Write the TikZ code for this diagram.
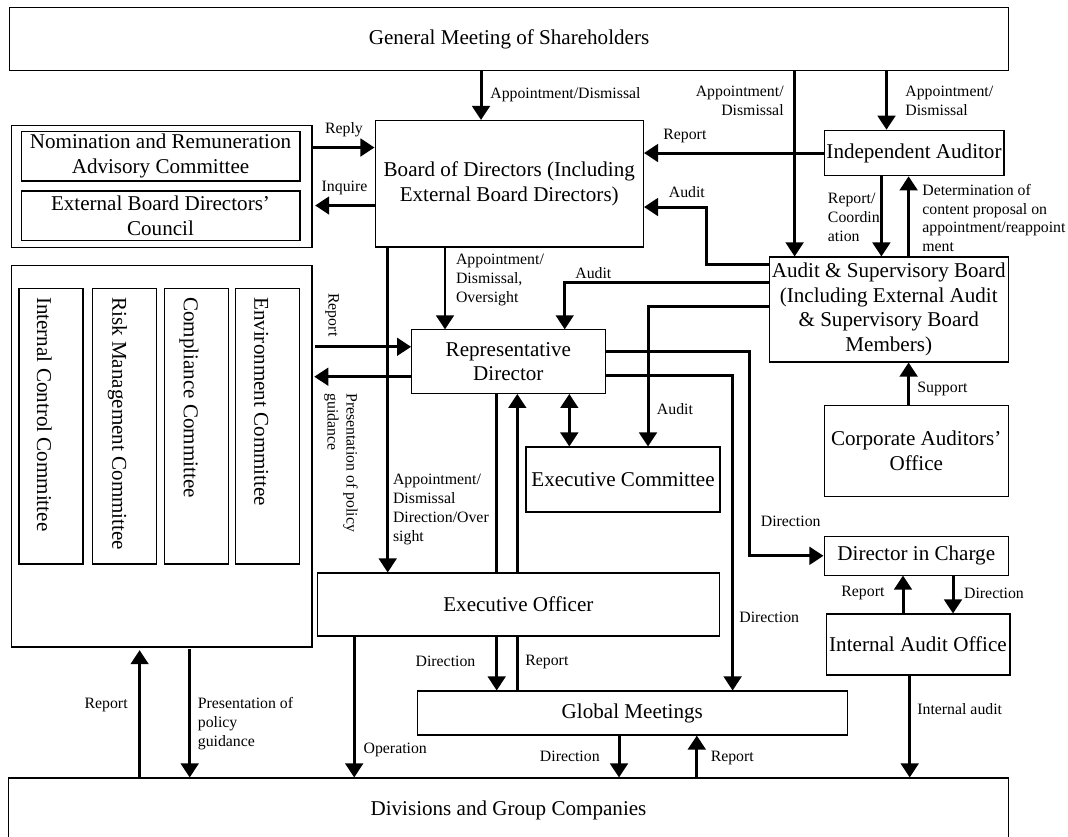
\documentclass[tikz,border=0pt]{standalone}
\usepackage{fontspec}
\setmainfont{Liberation Serif}
\usetikzlibrary{arrows.meta}

\begin{document}
\begin{tikzpicture}[x=0.02cm,y=-0.02cm,
  box/.style={draw=black,line width=0.6pt,inner sep=1pt,align=center,font=\fontsize{12}{14}\selectfont},
  vtext/.style={rotate=-90,anchor=west,inner sep=0pt,font=\fontsize{12}{14}\selectfont},
  lbl/.style={inner sep=0pt,align=left,font=\fontsize{9}{10.8}\selectfont},
  arr/.style={line width=1.7pt,-{Triangle[width=10pt,length=8pt]}},
  dblarr/.style={line width=1.7pt,{Triangle[width=10pt,length=8pt]}-{Triangle[width=10pt,length=8pt]}},
  wire/.style={line width=1.7pt}]
\useasboundingbox (0,0) rectangle (1068,836);

% Top and bottom bars
\node[box,minimum width=20cm,minimum height=1.27cm] (gm) at (509,39) {General Meeting of Shareholders};
\node[box,minimum width=20cm,minimum height=1.28cm] (div) at (508.5,810) {Divisions and Group Companies};

% Advisory committees
\node[box,minimum width=6.02cm,minimum height=2.44cm] (advgrp) at (161.5,186.5) {};
\node[box,minimum width=5.58cm,minimum height=0.99cm] (nrac) at (160.5,156.25) {Nomination and Remuneration\\Advisory Committee};
\node[box,minimum width=5.58cm,minimum height=0.99cm] (ebdc) at (160.5,215.75) {External Board Directors’\\Council};

% Company committees
\node[box,minimum width=6.02cm,minimum height=7.64cm] (cmtgrp) at (161.5,456) {};
\foreach \nm/\cx/\tx/\txt in {icc/51/44.3/Internal Control Committee, rmc/124.65/117.5/Risk Management Committee,
    coc/196.35/189/Compliance Committee, enc/267.7/261.2/Environment Committee}{
  \node[box,minimum width=1.28cm,minimum height=5.52cm] (\nm) at (\cx,426) {};
  \node[vtext] (\nm-t) at (\tx,296.8) {\txt};
}

% Boards and offices
\node[box,minimum width=5.37cm,minimum height=2.53cm] (bod) at (509.25,183.75) {Board of Directors (Including\\External Board Directors)};
\node[box,minimum width=3.6cm,minimum height=0.91cm] (ia) at (914,153) {Independent Auditor};
\node[box,minimum width=4.79cm,minimum height=2.1cm] (asb) at (888.75,309.5) {Audit \& Supervisory Board\\(Including External Audit\\\& Supervisory Board\\Members)};
\node[box,minimum width=3.69cm,minimum height=1.83cm] (cao) at (916.25,451) {Corporate Auditors’\\Office};
\node[box,minimum width=3.69cm,minimum height=0.77cm] (dic) at (916.25,555.8) {Director in Charge};
\node[box,minimum width=3.68cm,minimum height=1.22cm] (iao) at (918,644.5) {Internal Audit Office};
\node[box,minimum width=3.87cm,minimum height=1.27cm] (rd) at (508.35,361.65) {Representative\\Director};
\node[box,minimum width=3.88cm,minimum height=1.3cm] (excom) at (623,479.5) {Executive Committee};
\node[box,minimum width=8.04cm,minimum height=1.26cm] (eo) at (518.35,604.5) {Executive Officer};
\node[box,minimum width=8.6cm,minimum height=0.88cm] (glob) at (632.3,713) {Global Meetings};

% General Meeting appointments
\draw[arr] (481,0 |- gm.south) -- (481,0 |- bod.north);
\draw[arr] (794.6,0 |- gm.south) -- (794.6,0 |- asb.north);
\draw[arr] (886.5,0 |- gm.south) -- (886.5,0 |- ia.north);
\node[lbl,anchor=west] (apBod) at (490,95) {Appointment/Dismissal};
\node[lbl,anchor=east,align=right] (apAsb) at (784,100.5) {Appointment/\\Dismissal};
\node[lbl,anchor=west] (apIa) at (905,100.5) {Appointment/\\Dismissal};

% Board and advisory committees
\draw[arr] (advgrp.east |- 0,147.5) -- (bod.west |- 0,147.5);
\draw[arr,shorten >=1.5pt] (bod.west |- 0,205.5) -- (advgrp.east |- 0,205.5);
\node[lbl] (reply) at (344,130) {Reply};
\node[lbl] (inquire) at (344.5,188) {Inquire};

% Independent Auditor
\draw[arr] (ia.west) -- (bod.east |- ia.west);
\draw[arr] (881.4,0 |- ia.south) -- (881.4,0 |- asb.north);
\draw[arr] (908.6,0 |- asb.north) -- (908.6,0 |- ia.south);
\node[lbl,anchor=west] (repIa) at (663,136) {Report};
\node[lbl,anchor=west] (coord) at (827.6,217) {Report/\\Coordin\\ation};
\node[lbl,anchor=west] (determ) at (922,218) {Determination of\\content proposal on\\appointment/reappoint\\ment};

% Audit & Supervisory Board
\draw[arr] (asb.west |- 0,264) -| (706,207) -- (bod.east |- 0,207);
\draw[arr] (asb.west |- 0,282) -| (564.7,0 |- rd.north);
\draw[arr] (asb.west |- 0,306) -| (648,0 |- excom.north);
\draw[arr] (908.6,0 |- cao.north) -- (908.6,0 |- asb.south);
\node[lbl,anchor=west] (auBod) at (668.5,192) {Audit};
\node[lbl,anchor=west] (auRd) at (575,272.6) {Audit};
\node[lbl,anchor=west] (auEc) at (656.6,408.8) {Audit};
\node[lbl,anchor=west] (support) at (917,388.7) {Support};

% Representative Director
\draw[arr] (445,0 |- bod.south) -- (445,0 |- rd.north);
\draw[arr] (387.7,0 |- bod.south) -- (387.7,0 |- eo.north);
\draw[arr,shorten <=1.5pt] (cmtgrp.east |- 0,346.8) -- (rd.west |- 0,346.8);
\draw[arr,shorten >=1pt] (rd.west |- 0,376.7) -- (cmtgrp.east |- 0,376.7);
\draw[arr] (rd.east |- 0,351) -| (749,0 |- dic.west) -- (dic.west);
\draw[arr] (rd.east |- 0,375.8) -| (732.6,0 |- glob.north);
\draw[dblarr] (569.3,0 |- rd.south) -- (569.3,0 |- excom.north);
\node[lbl,anchor=west] (apRd) at (455.7,280) {Appointment/\\Dismissal,\\Oversight};
\node[lbl,anchor=west] (apEo) at (392.7,509.5) {Appointment/\\Dismissal\\Direction/Over\\sight};
\node[lbl,rotate=-90,anchor=west] (repCm) at (332,293) {Report};
\node[lbl,rotate=-90,anchor=west] (polCm) at (341,393) {Presentation of policy\\guidance};
\node[lbl,anchor=west] (dirDic) at (760.5,521.6) {Direction};
\node[lbl,anchor=west] (dirGlob) at (739,617.7) {Direction};

% Executive Officer and Global Meetings
\draw[wire] (496.7,0 |- rd.south) -- (496.7,0 |- eo.north);
\draw[arr] (496.7,0 |- eo.south) -- (496.7,0 |- glob.north);
\draw[wire] (517.3,0 |- glob.north) -- (517.3,0 |- eo.south);
\draw[arr] (517.3,0 |- eo.north) -- (517.3,0 |- rd.south);
\draw[arr] (354.2,0 |- eo.south) -- (354.2,0 |- div.north);
\draw[arr] (619,0 |- glob.south) -- (619,0 |- div.north);
\draw[arr] (696.8,0 |- div.north) -- (696.8,0 |- glob.south);
\node[lbl,anchor=east] (dirEo) at (475.7,661.7) {Direction};
\node[lbl,anchor=west] (repEo) at (525,661.7) {Report};
\node[lbl,anchor=west] (oper) at (363.3,750) {Operation};
\node[lbl,anchor=east] (dirDiv) at (600,756) {Direction};
\node[lbl,anchor=west] (repDiv) at (710.4,758) {Report};

% Internal audit
\draw[arr] (953,0 |- dic.south) -- (953,0 |- iao.north);
\draw[arr] (903,0 |- iao.north) -- (903,0 |- dic.south);
\draw[arr] (909.7,0 |- iao.south) -- (909.7,0 |- div.north);
\node[lbl,anchor=east] (repIao) at (884.8,592.8) {Report};
\node[lbl,anchor=west] (dirIao) at (963.8,593) {Direction};
\node[lbl,anchor=west] (intAud) at (917,708.6) {Internal audit};

% Committees and divisions
\draw[arr,shorten >=1.5pt] (139.6,0 |- div.north) -- (139.6,0 |- cmtgrp.south);
\draw[arr,shorten <=1pt] (189.7,0 |- cmtgrp.south) -- (189.7,0 |- div.north);
\node[lbl,anchor=east] (repCmt) at (128,704.5) {Report};
\node[lbl,anchor=west] (polDiv) at (197.5,723.7) {Presentation of\\policy\\guidance};

\end{tikzpicture}
\end{document}
